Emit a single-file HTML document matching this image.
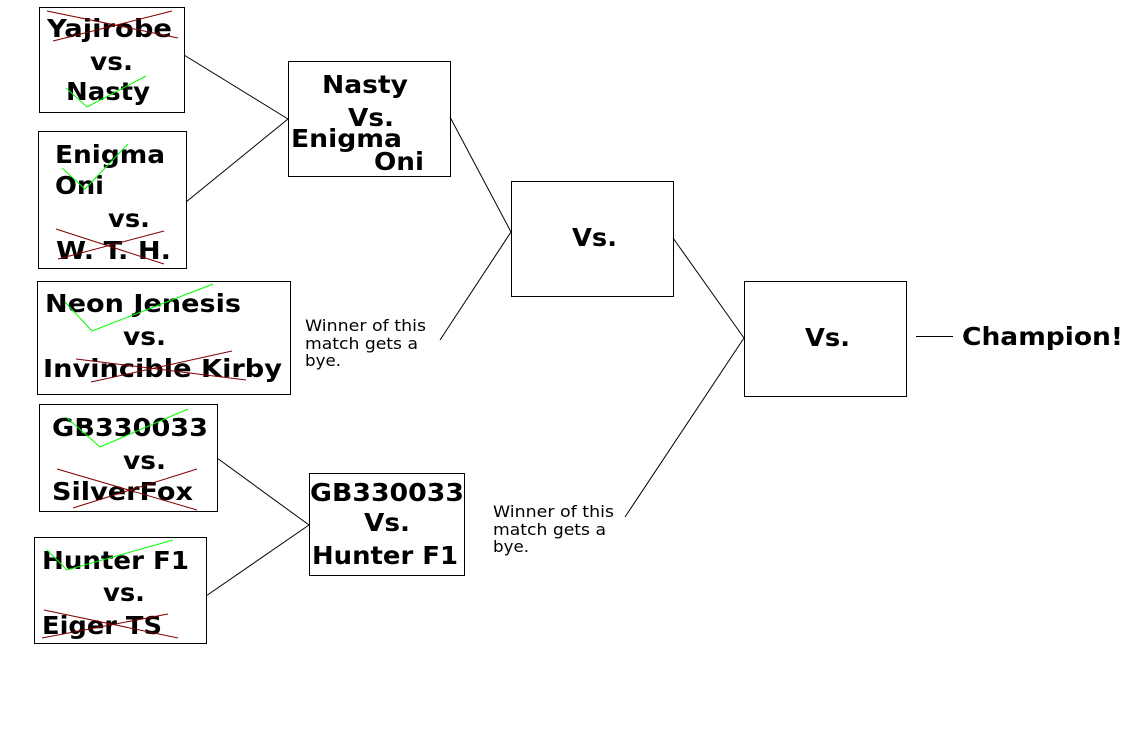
<!DOCTYPE html>
<html><head><style>body{margin:0;background:#fff}svg{display:block}</style></head><body>
<svg width="1141" height="735" xmlns="http://www.w3.org/2000/svg" font-family="'DejaVu Sans','Liberation Sans',sans-serif">
<rect width="1141" height="735" fill="#fff"/>
<g fill="none" stroke="#000" stroke-width="1">
<rect x="39.5" y="7.5" width="145" height="105"/>
<rect x="38.5" y="131.5" width="148" height="137"/>
<rect x="37.5" y="281.5" width="253" height="113"/>
<rect x="39.5" y="404.5" width="178" height="107"/>
<rect x="34.5" y="537.5" width="172" height="106"/>
<rect x="288.5" y="61.5" width="162" height="115"/>
<rect x="511.5" y="181.5" width="162" height="115"/>
<rect x="744.5" y="281.5" width="162" height="115"/>
<rect x="309.5" y="473.5" width="155" height="102"/>
<path d="M184 55L288 119M186 202L288 119M450 117L511 232M440 340L511 232M217 458L309 525M206 596L309 525M673 238L744 338M625 517L744 338M916 336.5H953"/>
</g>
<g font-weight="bold" font-size="25" fill="#000">
<text x="47" y="37" textLength="125" lengthAdjust="spacingAndGlyphs">Yajirobe</text>
<text x="90" y="70" textLength="43" lengthAdjust="spacingAndGlyphs">vs.</text>
<text x="66" y="100" textLength="84" lengthAdjust="spacingAndGlyphs">Nasty</text>
<text x="55" y="163" textLength="110" lengthAdjust="spacingAndGlyphs">Enigma</text>
<text x="55" y="194" textLength="49" lengthAdjust="spacingAndGlyphs">Oni</text>
<text x="108" y="227" textLength="42" lengthAdjust="spacingAndGlyphs">vs.</text>
<text x="56" y="259" textLength="115" lengthAdjust="spacingAndGlyphs">W. T. H.</text>
<text x="45" y="312" textLength="196" lengthAdjust="spacingAndGlyphs">Neon Jenesis</text>
<text x="123" y="345" textLength="43" lengthAdjust="spacingAndGlyphs">vs.</text>
<text x="43" y="377" textLength="239" lengthAdjust="spacingAndGlyphs">Invincible Kirby</text>
<text x="52" y="436" textLength="156" lengthAdjust="spacingAndGlyphs">GB330033</text>
<text x="123" y="469" textLength="43" lengthAdjust="spacingAndGlyphs">vs.</text>
<text x="52" y="500" textLength="141" lengthAdjust="spacingAndGlyphs">SilverFox</text>
<text x="42" y="569" textLength="147" lengthAdjust="spacingAndGlyphs">Hunter F1</text>
<text x="103" y="601" textLength="42" lengthAdjust="spacingAndGlyphs">vs.</text>
<text x="42" y="634" textLength="120" lengthAdjust="spacingAndGlyphs">Eiger TS</text>
<text x="322" y="93" textLength="86" lengthAdjust="spacingAndGlyphs">Nasty</text>
<text x="348" y="126" textLength="46" lengthAdjust="spacingAndGlyphs">Vs.</text>
<text x="291" y="147" textLength="111" lengthAdjust="spacingAndGlyphs">Enigma</text>
<text x="374" y="170" textLength="50" lengthAdjust="spacingAndGlyphs">Oni</text>
<text x="572" y="246" textLength="45" lengthAdjust="spacingAndGlyphs">Vs.</text>
<text x="805" y="346" textLength="45" lengthAdjust="spacingAndGlyphs">Vs.</text>
<text x="310" y="501" textLength="154" lengthAdjust="spacingAndGlyphs">GB330033</text>
<text x="364" y="531" textLength="46" lengthAdjust="spacingAndGlyphs">Vs.</text>
<text x="312" y="564" textLength="146" lengthAdjust="spacingAndGlyphs">Hunter F1</text>
<text x="962" y="345" textLength="161" lengthAdjust="spacingAndGlyphs">Champion!</text>
</g>
<g font-size="16" fill="#000">
<text x="305" y="331" textLength="121" lengthAdjust="spacingAndGlyphs">Winner of this</text>
<text x="305" y="349" textLength="113" lengthAdjust="spacingAndGlyphs">match gets a</text>
<text x="305" y="366" textLength="36" lengthAdjust="spacingAndGlyphs">bye.</text>
<text x="493" y="517" textLength="121" lengthAdjust="spacingAndGlyphs">Winner of this</text>
<text x="493" y="535" textLength="113" lengthAdjust="spacingAndGlyphs">match gets a</text>
<text x="493" y="552" textLength="36" lengthAdjust="spacingAndGlyphs">bye.</text>
</g>
<g fill="none" stroke="#800000" stroke-width="1">
<path d="M47 11L178 38M53 41L172 11"/>
<path d="M56 229L164 264M58 259L164 231"/>
<path d="M76 359L246 380M91 382L232 351"/>
<path d="M57 469L197 510M73 508L197 469"/>
<path d="M44 610L178 638M42 638L168 614"/>
</g>
<g fill="none" stroke="#00ff00" stroke-width="1">
<path d="M66 88L87 107L146 76"/>
<path d="M62 168L85 189L128 144"/>
<path d="M65 302L92 331L213 284"/>
<path d="M66 417L100 447L188 409"/>
<path d="M47 550L67 570L173 540"/>
</g>
</svg>
</body></html>
